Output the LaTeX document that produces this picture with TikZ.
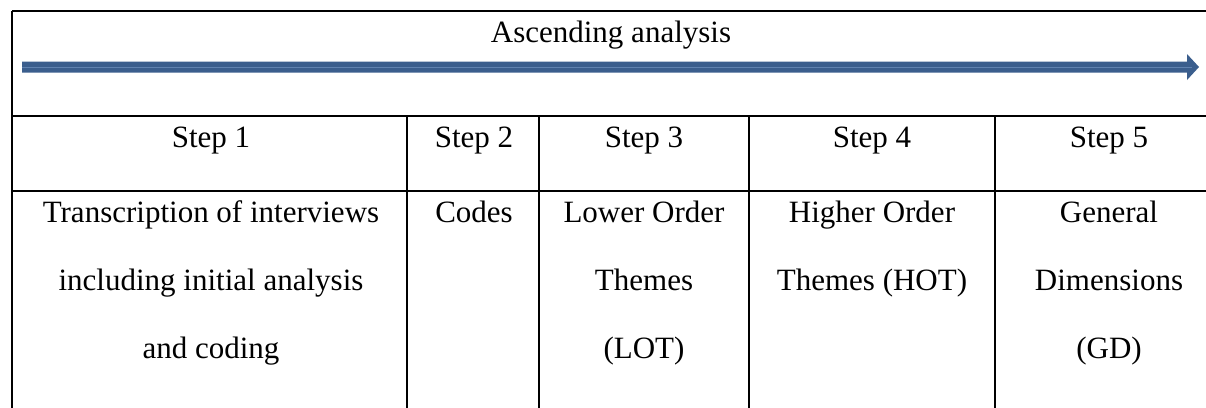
\documentclass[tikz,border=0pt]{standalone}
\usepackage{fontspec}
\setmainfont{Liberation Serif}
\definecolor{arrowblue}{RGB}{59,94,141}
\definecolor{arrowlight}{RGB}{96,130,175}
\tikzset{
  grid/.style={line width=1.8pt, black},
  cell/.style={anchor=base, inner sep=0pt, font=\fontsize{31}{32}\selectfont},
}
\begin{document}
\begin{tikzpicture}[x=1pt,y=-1pt]
\useasboundingbox (0,0) rectangle (1206,407);
% table rules
\draw[grid] (12,11) -- (1210,11);
\draw[grid] (12,11) -- (12,410);
\draw[grid] (12,116) -- (1210,116);
\draw[grid] (12,191) -- (1210,191);
\draw[grid] (407,116) -- (407,410);
\draw[grid] (539,116) -- (539,410);
\draw[grid] (749,116) -- (749,410);
\draw[grid] (995,116) -- (995,410);
% arrow
\coordinate (astart) at (22,67);
\coordinate (atip) at (1199,67);
\fill[arrowblue] (22,61.5) -- (1187,61.5) -- (1187,54) -- (atip) -- (1187,80) -- (1187,72.5) -- (22,72.5) -- cycle;
\draw[arrowlight, line width=0.6pt] (astart) -- (1192,67);
% texts
\node[cell] (title) at (611,42) {Ascending analysis};
\node[cell] (s1) at (211,147) {Step 1};
\node[cell] (s2) at (474,147) {Step 2};
\node[cell] (s3) at (644,147) {Step 3};
\node[cell] (s4) at (872,147) {Step 4};
\node[cell] (s5) at (1109,147) {Step 5};
\node[cell] (t1a) at (211,222) {Transcription of interviews};
\node[cell] (t1b) at (211,290) {including initial analysis};
\node[cell] (t1c) at (211,358) {and coding};
\node[cell] (t2a) at (474,222) {Codes};
\node[cell] (t3a) at (644,222) {Lower Order};
\node[cell] (t3b) at (644,290) {Themes};
\node[cell] (t3c) at (644,358) {(LOT)};
\node[cell] (t4a) at (872,222) {Higher Order};
\node[cell] (t4b) at (872,290) {Themes (HOT)};
\node[cell] (t5a) at (1109,222) {General};
\node[cell] (t5b) at (1109,290) {Dimensions};
\node[cell] (t5c) at (1109,358) {(GD)};
\end{tikzpicture}
\end{document}
